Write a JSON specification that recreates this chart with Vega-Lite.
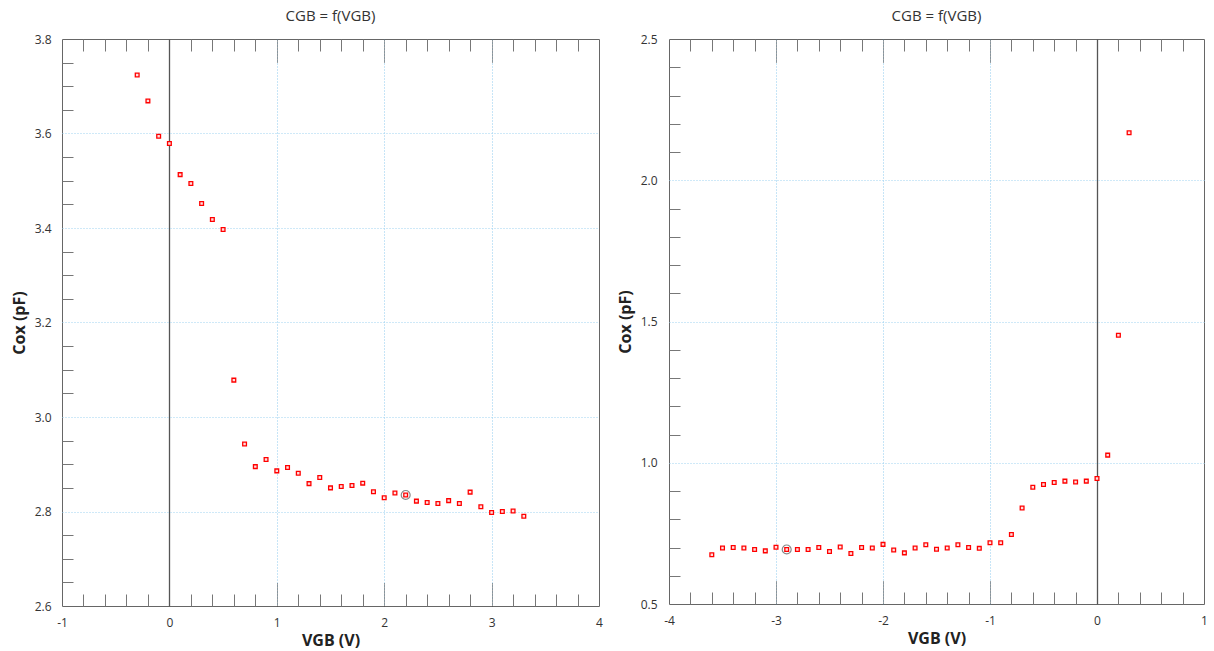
{
  "$schema": "https://vega.github.io/schema/vega-lite/v6.json",
  "background": "white",
  "padding": {"left": 10, "top": 8, "right": 5, "bottom": 5},
  "bounds": "flush",
  "spacing": 70,
  "config": {
    "view": {"stroke": "#666", "strokeWidth": 1},
    "font": "Open Sans",
    "axis": {"labelFont": "Open Sans", "titleFont": "Open Sans", "labelFontSize": 12, "labelColor": "#333", "titleColor": "#222", "titleFontSize": 16, "titleFontWeight": "bold"},
    "title": {"font": "Open Sans", "fontSize": 15, "fontWeight": "normal", "color": "#333", "offset": 9}
  },
  "datasets": {
    "left": [
      {"v": -0.3, "c": 3.724, "hl": false},
      {"v": -0.2, "c": 3.669, "hl": false},
      {"v": -0.1, "c": 3.594, "hl": false},
      {"v": 0.0, "c": 3.579, "hl": false},
      {"v": 0.1, "c": 3.513, "hl": false},
      {"v": 0.2, "c": 3.494, "hl": false},
      {"v": 0.3, "c": 3.452, "hl": false},
      {"v": 0.4, "c": 3.418, "hl": false},
      {"v": 0.5, "c": 3.397, "hl": false},
      {"v": 0.6, "c": 3.078, "hl": false},
      {"v": 0.7, "c": 2.943, "hl": false},
      {"v": 0.8, "c": 2.895, "hl": false},
      {"v": 0.9, "c": 2.910, "hl": false},
      {"v": 1.0, "c": 2.886, "hl": false},
      {"v": 1.1, "c": 2.893, "hl": false},
      {"v": 1.2, "c": 2.881, "hl": false},
      {"v": 1.3, "c": 2.859, "hl": false},
      {"v": 1.4, "c": 2.872, "hl": false},
      {"v": 1.5, "c": 2.850, "hl": false},
      {"v": 1.6, "c": 2.853, "hl": false},
      {"v": 1.7, "c": 2.855, "hl": false},
      {"v": 1.8, "c": 2.860, "hl": false},
      {"v": 1.9, "c": 2.842, "hl": false},
      {"v": 2.0, "c": 2.829, "hl": false},
      {"v": 2.1, "c": 2.839, "hl": false},
      {"v": 2.2, "c": 2.835, "hl": true},
      {"v": 2.3, "c": 2.822, "hl": false},
      {"v": 2.4, "c": 2.819, "hl": false},
      {"v": 2.5, "c": 2.817, "hl": false},
      {"v": 2.6, "c": 2.823, "hl": false},
      {"v": 2.7, "c": 2.817, "hl": false},
      {"v": 2.8, "c": 2.841, "hl": false},
      {"v": 2.9, "c": 2.810, "hl": false},
      {"v": 3.0, "c": 2.798, "hl": false},
      {"v": 3.1, "c": 2.800, "hl": false},
      {"v": 3.2, "c": 2.801, "hl": false},
      {"v": 3.3, "c": 2.790, "hl": false}
    ],
    "right": [
      {"v": -3.6, "c": 0.674, "hl": false},
      {"v": -3.5, "c": 0.698, "hl": false},
      {"v": -3.4, "c": 0.700, "hl": false},
      {"v": -3.3, "c": 0.698, "hl": false},
      {"v": -3.2, "c": 0.693, "hl": false},
      {"v": -3.1, "c": 0.688, "hl": false},
      {"v": -3.0, "c": 0.701, "hl": false},
      {"v": -2.9, "c": 0.693, "hl": true},
      {"v": -2.8, "c": 0.693, "hl": false},
      {"v": -2.7, "c": 0.693, "hl": false},
      {"v": -2.6, "c": 0.700, "hl": false},
      {"v": -2.5, "c": 0.686, "hl": false},
      {"v": -2.4, "c": 0.702, "hl": false},
      {"v": -2.3, "c": 0.679, "hl": false},
      {"v": -2.2, "c": 0.700, "hl": false},
      {"v": -2.1, "c": 0.698, "hl": false},
      {"v": -2.0, "c": 0.711, "hl": false},
      {"v": -1.9, "c": 0.691, "hl": false},
      {"v": -1.8, "c": 0.681, "hl": false},
      {"v": -1.7, "c": 0.698, "hl": false},
      {"v": -1.6, "c": 0.710, "hl": false},
      {"v": -1.5, "c": 0.694, "hl": false},
      {"v": -1.4, "c": 0.698, "hl": false},
      {"v": -1.3, "c": 0.710, "hl": false},
      {"v": -1.2, "c": 0.700, "hl": false},
      {"v": -1.1, "c": 0.697, "hl": false},
      {"v": -1.0, "c": 0.717, "hl": false},
      {"v": -0.9, "c": 0.717, "hl": false},
      {"v": -0.8, "c": 0.746, "hl": false},
      {"v": -0.7, "c": 0.840, "hl": false},
      {"v": -0.6, "c": 0.913, "hl": false},
      {"v": -0.5, "c": 0.923, "hl": false},
      {"v": -0.4, "c": 0.930, "hl": false},
      {"v": -0.3, "c": 0.935, "hl": false},
      {"v": -0.2, "c": 0.932, "hl": false},
      {"v": -0.1, "c": 0.935, "hl": false},
      {"v": 0.0, "c": 0.944, "hl": false},
      {"v": 0.1, "c": 1.027, "hl": false},
      {"v": 0.2, "c": 1.451, "hl": false},
      {"v": 0.3, "c": 2.168, "hl": false}
    ]
  },
  "hconcat": [
    {
      "width": 537,
      "height": 567,
      "title": {"text": "CGB = f(VGB)"},
      "data": {"name": "left"},
      "resolve": {"axis": {"x": "independent", "y": "independent"}},
      "layer": [
        {
          "mark": {"type": "point", "opacity": 0},
          "encoding": {
            "x": {"field": "v", "type": "quantitative", "scale": {"domain": [-1, 4], "nice": false, "zero": false},
              "axis": {"orient": "bottom", "values": [0], "grid": true, "gridColor": "#555", "gridWidth": 1.3, "gridDash": [], "labels": false, "ticks": false, "domain": false, "title": null}},
            "y": {"field": "c", "type": "quantitative", "scale": {"domain": [2.6, 3.8], "nice": false, "zero": false},
              "axis": {"orient": "left", "values": [2.8, 3.0, 3.2, 3.4, 3.6], "grid": true, "gridColor": "#9fd3f0", "gridDash": [1, 2], "labels": false, "ticks": false, "domain": false, "title": null}}
          }
        },
        {
          "mark": {"type": "point", "opacity": 0},
          "encoding": {
            "x": {"field": "v", "type": "quantitative",
              "axis": {"orient": "bottom", "values": [1, 2, 3], "grid": true, "gridColor": "#8fcbef", "gridDash": [1, 2], "labels": false, "ticks": false, "domain": false, "title": null}},
            "y": {"field": "c", "type": "quantitative",
              "axis": {"orient": "left", "values": [2.65, 2.7, 2.75, 2.85, 2.9, 2.95, 3.05, 3.1, 3.15, 3.25, 3.3, 3.35, 3.45, 3.5, 3.55, 3.65, 3.7, 3.75], "grid": false, "labels": false, "ticks": true, "tickSize": -11, "tickColor": "#777", "domain": false, "title": null}}
          }
        },
        {
          "mark": {"type": "point", "opacity": 0},
          "encoding": {
            "x": {"field": "v", "type": "quantitative",
              "axis": {"orient": "bottom", "values": [-0.8, -0.6, -0.4, -0.2, 0.2, 0.4, 0.6, 0.8, 1.2, 1.4, 1.6, 1.8, 2.2, 2.4, 2.6, 2.8, 3.2, 3.4, 3.6, 3.8], "grid": false, "labels": false, "ticks": true, "tickSize": -12, "tickColor": "#777", "domain": false, "title": null}},
            "y": {"field": "c", "type": "quantitative", "axis": null}
          }
        },
        {
          "mark": {"type": "point", "opacity": 0},
          "encoding": {
            "x": {"field": "v", "type": "quantitative",
              "axis": {"orient": "top", "values": [-0.8, -0.6, -0.4, -0.2, 0.2, 0.4, 0.6, 0.8, 1.2, 1.4, 1.6, 1.8, 2.2, 2.4, 2.6, 2.8, 3.2, 3.4, 3.6, 3.8], "grid": false, "labels": false, "ticks": true, "tickSize": -12, "tickColor": "#777", "domain": false, "title": null}},
            "y": {"field": "c", "type": "quantitative", "axis": null}
          }
        },
        {
          "mark": {"type": "point", "opacity": 0},
          "encoding": {
            "x": {"field": "v", "type": "quantitative",
              "axis": {"orient": "bottom", "values": [1, 2, 3], "grid": false, "labels": false, "ticks": true, "tickSize": -23, "tickColor": "#444", "tickDash": [1, 1], "domain": false, "title": null}},
            "y": {"field": "c", "type": "quantitative", "axis": null}
          }
        },
        {
          "mark": {"type": "point", "opacity": 0},
          "encoding": {
            "x": {"field": "v", "type": "quantitative",
              "axis": {"orient": "top", "values": [1, 2, 3], "grid": false, "labels": false, "ticks": true, "tickSize": -23, "tickColor": "#444", "tickDash": [1, 1], "domain": false, "title": null}},
            "y": {"field": "c", "type": "quantitative", "axis": null}
          }
        },
        {
          "mark": {"type": "square", "size": 14, "filled": true, "fill": "#ffdede", "stroke": "#ff0000", "strokeWidth": 1.3, "opacity": 1},
          "encoding": {
            "x": {"field": "v", "type": "quantitative",
              "axis": {"orient": "bottom", "values": [-1, 0, 1, 2, 3, 4], "labelExpr": "datum.value < 0 ? '-' + abs(datum.value) : '' + datum.value", "grid": false, "ticks": false, "tickSize": 0, "domain": false, "labelPadding": 11, "labelFlush": false, "labelOverlap": false, "title": "VGB (V)", "titlePadding": 4}},
            "y": {"field": "c", "type": "quantitative",
              "axis": {"orient": "left", "values": [2.6, 2.8, 3.0, 3.2, 3.4, 3.6, 3.8], "format": ".1f", "grid": false, "ticks": false, "tickSize": 0, "domain": false, "labelPadding": 11, "labelFlush": false, "labelOverlap": false, "title": "Cox (pF)", "titlePadding": 7}}
          }
        },
        {
          "transform": [{"filter": "datum.hl"}],
          "mark": {"type": "point", "shape": "circle", "size": 80, "filled": false, "stroke": "#555", "strokeWidth": 1.2},
          "encoding": {
            "x": {"field": "v", "type": "quantitative", "axis": null},
            "y": {"field": "c", "type": "quantitative", "axis": null}
          }
        }
      ]
    },
    {
      "width": 535,
      "height": 565,
      "title": {"text": "CGB = f(VGB)"},
      "data": {"name": "right"},
      "resolve": {"axis": {"x": "independent", "y": "independent"}},
      "layer": [
        {
          "mark": {"type": "point", "opacity": 0},
          "encoding": {
            "x": {"field": "v", "type": "quantitative", "scale": {"domain": [-4, 1], "nice": false, "zero": false},
              "axis": {"orient": "bottom", "values": [0], "grid": true, "gridColor": "#555", "gridWidth": 1.3, "gridDash": [], "labels": false, "ticks": false, "domain": false, "title": null}},
            "y": {"field": "c", "type": "quantitative", "scale": {"domain": [0.5, 2.5], "nice": false, "zero": false},
              "axis": {"orient": "left", "values": [1.0, 1.5, 2.0], "grid": true, "gridColor": "#9fd3f0", "gridDash": [1, 2], "labels": false, "ticks": false, "domain": false, "title": null}}
          }
        },
        {
          "mark": {"type": "point", "opacity": 0},
          "encoding": {
            "x": {"field": "v", "type": "quantitative",
              "axis": {"orient": "bottom", "values": [-3, -2, -1], "grid": true, "gridColor": "#8fcbef", "gridDash": [1, 2], "labels": false, "ticks": false, "domain": false, "title": null}},
            "y": {"field": "c", "type": "quantitative",
              "axis": {"orient": "left", "values": [0.6, 0.7, 0.8, 0.9, 1.1, 1.2, 1.3, 1.4, 1.6, 1.7, 1.8, 1.9, 2.1, 2.2, 2.3, 2.4], "grid": false, "labels": false, "ticks": true, "tickSize": -11, "tickColor": "#777", "domain": false, "title": null}}
          }
        },
        {
          "mark": {"type": "point", "opacity": 0},
          "encoding": {
            "x": {"field": "v", "type": "quantitative",
              "axis": {"orient": "bottom", "values": [-3.8, -3.6, -3.4, -3.2, -2.8, -2.6, -2.4, -2.2, -1.8, -1.6, -1.4, -1.2, -0.8, -0.6, -0.4, -0.2, 0.2, 0.4, 0.6, 0.8], "grid": false, "labels": false, "ticks": true, "tickSize": -12, "tickColor": "#777", "domain": false, "title": null}},
            "y": {"field": "c", "type": "quantitative", "axis": null}
          }
        },
        {
          "mark": {"type": "point", "opacity": 0},
          "encoding": {
            "x": {"field": "v", "type": "quantitative",
              "axis": {"orient": "top", "values": [-3.8, -3.6, -3.4, -3.2, -2.8, -2.6, -2.4, -2.2, -1.8, -1.6, -1.4, -1.2, -0.8, -0.6, -0.4, -0.2, 0.2, 0.4, 0.6, 0.8], "grid": false, "labels": false, "ticks": true, "tickSize": -12, "tickColor": "#777", "domain": false, "title": null}},
            "y": {"field": "c", "type": "quantitative", "axis": null}
          }
        },
        {
          "mark": {"type": "point", "opacity": 0},
          "encoding": {
            "x": {"field": "v", "type": "quantitative",
              "axis": {"orient": "bottom", "values": [-3, -2, -1], "grid": false, "labels": false, "ticks": true, "tickSize": -23, "tickColor": "#444", "tickDash": [1, 1], "domain": false, "title": null}},
            "y": {"field": "c", "type": "quantitative", "axis": null}
          }
        },
        {
          "mark": {"type": "point", "opacity": 0},
          "encoding": {
            "x": {"field": "v", "type": "quantitative",
              "axis": {"orient": "top", "values": [-3, -2, -1], "grid": false, "labels": false, "ticks": true, "tickSize": -23, "tickColor": "#444", "tickDash": [1, 1], "domain": false, "title": null}},
            "y": {"field": "c", "type": "quantitative", "axis": null}
          }
        },
        {
          "mark": {"type": "square", "size": 14, "filled": true, "fill": "#ffdede", "stroke": "#ff0000", "strokeWidth": 1.3, "opacity": 1},
          "encoding": {
            "x": {"field": "v", "type": "quantitative",
              "axis": {"orient": "bottom", "values": [-4, -3, -2, -1, 0, 1], "labelExpr": "datum.value < 0 ? '-' + abs(datum.value) : '' + datum.value", "grid": false, "ticks": false, "tickSize": 0, "domain": false, "labelPadding": 11, "labelFlush": false, "labelOverlap": false, "title": "VGB (V)", "titlePadding": 4}},
            "y": {"field": "c", "type": "quantitative",
              "axis": {"orient": "left", "values": [0.5, 1.0, 1.5, 2.0, 2.5], "format": ".1f", "grid": false, "ticks": false, "tickSize": 0, "domain": false, "labelPadding": 12, "labelFlush": false, "labelOverlap": false, "title": "Cox (pF)", "titlePadding": 7}}
          }
        },
        {
          "transform": [{"filter": "datum.hl"}],
          "mark": {"type": "point", "shape": "circle", "size": 80, "filled": false, "stroke": "#555", "strokeWidth": 1.2},
          "encoding": {
            "x": {"field": "v", "type": "quantitative", "axis": null},
            "y": {"field": "c", "type": "quantitative", "axis": null}
          }
        }
      ]
    }
  ]
}
